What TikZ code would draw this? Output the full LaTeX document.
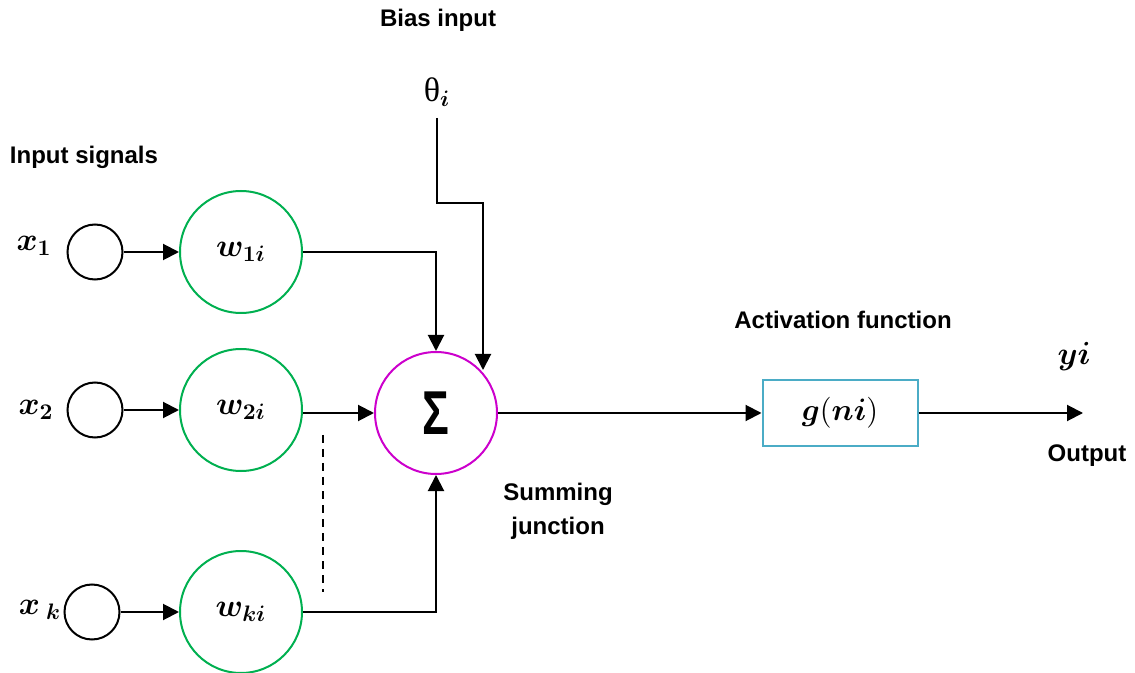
\RequirePackage{fix-cm}
\documentclass[tikz,border=0pt]{standalone}
\usepackage{amsmath,bm}
\usepackage[no-math]{fontspec}
\setmainfont{Liberation Sans}
\newfontfamily\serifgreek{Liberation Serif}
\usetikzlibrary{arrows.meta}
\definecolor{wgreen}{HTML}{00B050}
\definecolor{summag}{HTML}{CC00CC}
\definecolor{boxcyan}{HTML}{4BACC6}
\begin{document}
\begin{tikzpicture}[x=0.5pt,y=-0.5pt,
  inputnode/.style={circle,draw=black,line width=1pt,minimum size=27.5pt,inner sep=0pt},
  weightnode/.style={circle,draw=wgreen,line width=1pt,minimum size=61pt,inner sep=0pt,font=\fontsize{16}{18}\selectfont},
  sumnode/.style={circle,draw=summag,line width=1pt,minimum size=61pt,inner sep=0pt},
  actbox/.style={rectangle,draw=boxcyan,line width=1pt,minimum width=77.5pt,minimum height=33pt,inner sep=0pt,font=\fontsize{15.5}{18}\selectfont},
  caption/.style={font=\bfseries\fontsize{12}{14}\selectfont,align=center,inner sep=0pt},
  varlabel/.style={font=\fontsize{16}{18}\selectfont,inner sep=0pt},
  flow/.style={line width=1pt,-{Triangle[length=8pt,width=8pt]}}]
\useasboundingbox (0,0) rectangle (1135,673);

% input terminals
\node[inputnode] (in1) at (95,252) {};
\node[inputnode] (in2) at (95,410) {};
\node[inputnode] (ink) at (92,612) {};
\node[varlabel] (lx1) at (34,246) {$\bm{x}_{\bm{1}}$};
\node[varlabel] (lx2) at (36,410) {$\bm{x}_{\bm{2}}$};
\node[varlabel] (lxk) at (40,610) {$\bm{x}_{\;\bm{k}}$};

% weights
\node[weightnode] (w1) at (241,252) {$\bm{w}_{\bm{1i}}$};
\node[weightnode] (w2) at (241,410) {$\bm{w}_{\bm{2i}}$};
\node[weightnode] (wk) at (241,612) {$\bm{w}_{\bm{ki}}$};

% summing junction
\node[sumnode] (sum) at (436,413) {\scalebox{0.72}[1]{\bfseries\fontsize{31}{31}\selectfont Σ}};

% activation
\node[actbox] (act) at (840,413) {$\bm{g}(\bm{ni})$};

% bias
\node[inner sep=0pt,font=\fontsize{16}{18}\selectfont] (theta) at (437,92) {{\serifgreek\fontsize{17}{17}\selectfont θ}$_{\bm{i}}$};
\coordinate (biasTop) at (437,118);
\coordinate (biasBend) at (437,203);
\coordinate (biasRight) at (483,203);
\coordinate (biasEnd) at (483,370);

% output
\coordinate (outEnd) at (1083,413);
\node[varlabel] (yi) at (1074,357) {$\bm{y}\bm{i}$};

% captions
\node[caption] (capBias) at (438,20) {Bias input};
\node[caption] (capIn) at (84,157) {Input signals};
\node[caption] (capAct) at (843,320) {Activation function};
\node[caption] (capSum) at (558,511) {Summing\\[3pt]junction};
\node[caption] (capOut) at (1087,456) {Output};

% connectors
\draw[flow] (in1) -- (w1);
\draw[flow] (in2) -- (w2);
\draw[flow] (ink) -- (wk);
\draw[flow] (w1.east) -| (sum.north);
\draw[flow] (w2.east |- sum.west) -- (sum.west);
\draw[flow] (wk.east) -| (sum.south);
\draw[flow] (biasTop) -- (biasBend) -- (biasRight) -- (biasEnd);
\draw[flow] (sum.east) -- (act.west);
\draw[flow] (act.east) -- (outEnd);
\draw[line width=0.8pt,dashed,dash pattern=on 4pt off 3pt] (323,435) -- (323,592);
\end{tikzpicture}
\end{document}
